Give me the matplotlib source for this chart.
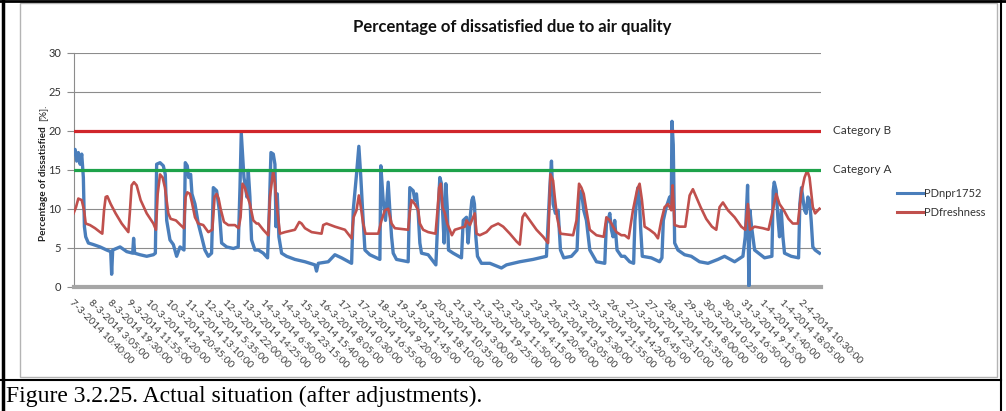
import matplotlib.pyplot as plt
from matplotlib.lines import Line2D
from matplotlib.transforms import blended_transform_factory

plt.rcParams['font.family'] = ['Lato', 'DejaVu Sans']

# hours since 7-3-2014 10:40 and percentage of dissatisfied
npr_hours = [0.0, 1.3, 2.7, 4.1, 5.6, 7.0, 8.4, 9.3, 10.4, 12.7, 17.0, 22.7, 28.4, 31.8, 32.6, 33.5,
             39.8, 45.5, 50.6, 51.4, 52.3, 56.9, 62.6, 68.3, 70.0, 71.1, 74.0, 76.8, 78.5, 79.7,
             82.5, 85.4, 88.2, 91.1, 94.5, 95.6, 97.3, 98.5, 100.2, 101.3, 103.9, 106.7, 109.6,
             112.4, 115.3, 118.1, 119.6, 122.4, 124.7, 126.7, 131.0, 136.7, 140.9, 142.4, 143.5,
             144.6, 145.8, 147.2, 148.3, 149.5, 150.9, 152.3, 155.2,
             158.1, 162.3, 166.0, 167.5, 168.9, 170.9, 172.3, 173.2, 174.3, 175.7, 178.0, 182.3,
             189.4, 198.0, 206.5, 207.9, 209.4, 217.9, 223.6, 229.3, 237.9, 239.3, 242.1, 244.1,
             245.8, 247.3, 249.3, 253.5, 262.1, 262.9, 264.9, 266.9, 269.2, 270.6, 272.1, 273.5,
             276.3, 286.3, 287.7, 290.6, 292.0, 293.4, 294.9, 296.3, 297.7, 303.4, 310.0, 312.0,
             313.4, 314.8,
             315.7, 317.1, 318.5, 319.7, 320.8, 324.8, 331.9, 333.4, 336.2, 337.6, 339.1, 340.8,
             341.9, 343.0, 344.2, 345.6, 349.0, 356.2, 366.1, 370.4, 381.8, 393.2, 404.6, 406.3,
             407.5, 408.9, 410.3, 412.3, 414.6, 416.6, 419.4, 426.0, 430.8, 432.5, 434.5, 436.5,
             438.8, 441.7, 447.4, 454.5, 455.9, 457.3, 458.8, 460.2, 461.6, 463.0, 465.0, 468.7,
             471.5, 475.8, 479.2, 480.3, 481.8, 482.9, 484.3, 485.2, 486.6, 494.3, 501.4, 503.4,
             504.6, 507.1, 510.0, 511.4, 512.0, 513.1, 514.3, 517.1, 522.8, 528.5, 535.6, 542.8,
             551.3, 557.0, 565.6, 572.7, 574.7, 576.7, 577.8, 578.7, 580.1, 582.7, 591.2, 597.5,
             598.6, 599.5, 601.2, 602.6, 604.0, 605.5, 606.9, 608.3, 614.0, 620.3, 621.4, 622.8,
             625.4, 626.8, 628.3, 629.7, 631.1, 632.5, 634.5, 638.2]
npr_values = [17.0, 17.6, 16.1, 17.2, 15.7, 17.0, 14.0, 7.7, 6.4, 5.6, 5.4, 5.1, 4.7, 4.5, 1.6, 4.7,
              5.1, 4.5, 4.3, 6.2, 4.3, 4.1, 3.9, 4.1, 4.3, 15.7, 15.9, 15.5, 14.4, 8.5,
              6.0, 5.4, 3.9, 5.1, 4.7, 15.9, 15.5, 14.0, 14.4, 11.9, 10.6, 8.1, 6.4,
              4.7, 3.9, 4.3, 12.7, 12.3, 9.8, 5.6, 5.1, 4.9, 5.1, 12.7, 19.7,
              17.0, 14.0, 12.7, 11.5, 14.9, 11.5, 6.0, 4.7,
              4.7, 4.3, 3.7, 9.8, 17.2, 17.0, 15.7, 7.7, 11.9, 6.4, 4.3, 3.9,
              3.5, 3.2, 2.8, 2.0, 3.0, 3.2, 4.1, 3.7, 3.0, 9.8, 14.4, 18.0,
              14.0, 9.8, 4.7, 4.1, 3.5, 15.5, 11.1, 8.5, 13.4, 9.8, 6.4, 4.3,
              3.5, 3.2, 12.7, 12.3, 11.1, 11.9, 9.4, 5.6, 4.3, 4.1, 2.8, 9.8,
              14.0, 13.2,
              9.8, 5.6, 13.2, 10.2, 4.7, 4.3, 3.7, 8.5, 8.9, 5.6, 8.5, 11.1,
              11.5, 10.6, 6.4, 3.9, 3.0, 3.0, 2.4, 2.8, 3.2, 3.5, 3.9, 8.9,
              12.7, 16.1, 10.6, 9.4, 9.8, 4.7, 3.7, 3.9, 4.7, 11.5, 12.3, 9.8,
              8.5, 4.7, 3.2, 3.0, 8.1, 8.5, 9.4, 7.3, 6.4, 8.5, 4.7, 3.9,
              3.9, 3.2, 3.0, 8.5, 11.3, 12.7, 10.6, 7.5, 3.9, 3.7, 3.2, 3.7,
              8.5, 10.2, 11.5, 10.6, 21.2, 18.2, 5.6, 4.7, 4.1, 3.9, 3.2, 3.0,
              3.5, 3.9, 3.2, 3.9, 6.4, 13.0, 0.1, 9.8, 7.7, 4.7, 3.7, 3.9,
              12.3, 13.4, 12.3, 8.9, 6.4, 9.8, 6.4, 4.3, 3.9, 3.7, 10.6, 12.7,
              9.8, 9.4, 11.5, 11.1, 8.5, 5.1, 4.7, 4.3]

fresh_hours = [0.0, 2.1, 4.1, 7.0, 9.0, 10.4, 14.1, 18.4, 22.7, 24.6, 26.1, 27.5, 28.9, 31.8, 36.0,
               41.2, 46.9, 48.3, 49.7, 51.7, 54.0, 57.4, 62.6, 68.3, 70.5, 72.0, 74.0, 76.2, 78.2,
               81.1, 83.1, 87.6, 91.6, 94.5, 95.9, 97.3, 99.6, 101.3, 103.9, 106.7, 111.0, 115.3,
               118.7, 120.7, 122.4, 124.1, 125.8, 128.7, 132.4, 138.1, 141.2, 142.9, 144.6, 146.6,
               148.1, 150.9, 153.8, 156.6,
               158.1, 162.3, 166.6, 168.0, 170.9, 172.3, 173.7, 176.6, 180.9, 189.4, 193.1, 195.1,
               198.0, 203.7, 212.2, 213.6, 216.5, 223.6, 232.2, 237.9, 239.6, 242.1, 244.1, 245.8,
               247.8, 249.8, 260.7, 263.5, 266.4, 269.2, 272.1, 274.9, 286.3, 287.7, 289.2, 292.0,
               294.9, 296.3, 299.1, 303.4, 309.7, 311.4, 312.8, 314.2,
               315.7, 317.7, 319.7, 321.9, 323.7, 326.2, 330.5, 334.8, 336.2, 339.1, 341.9, 343.3,
               344.8, 347.6, 353.3, 357.6, 363.3, 367.6, 373.3, 379.0, 381.8, 384.1, 386.1, 390.4,
               396.1, 401.8, 406.0, 408.0, 410.3, 411.7, 413.7, 416.6, 427.4, 430.3, 432.5, 434.5,
               436.5, 438.8, 441.7, 447.4, 453.6, 455.9, 458.8, 461.6, 464.5, 468.7,
               471.5, 474.9, 478.6, 482.3, 484.3, 486.3, 488.6, 492.9, 497.2, 500.0, 502.9, 505.7,
               508.6, 511.4, 512.5, 514.3, 518.5, 523.4, 527.1, 529.9, 532.8, 536.5, 541.3, 546.2,
               549.9, 552.7, 555.6, 559.9, 565.6, 571.3, 574.7, 577.0, 578.7, 582.7, 589.8, 594.6,
               598.3, 601.2, 604.0, 607.7, 611.7, 615.4, 619.7, 622.5, 625.4, 627.7, 629.7, 632.5,
               634.5, 638.2]
fresh_values = [9.4, 10.2, 11.3, 11.1, 9.8, 8.1, 7.9, 7.5, 7.0, 6.8, 9.8, 11.5, 11.6, 10.6, 9.4,
                8.1, 7.0, 9.8, 13.0, 13.4, 13.0, 11.1, 9.4, 8.1, 7.3, 11.9, 14.4, 14.0, 12.7,
                9.4, 8.7, 8.5, 7.9, 7.5, 11.5, 12.1, 11.9, 10.8, 8.9, 8.1, 7.9, 7.0,
                7.3, 11.5, 11.9, 11.3, 10.0, 8.3, 7.9, 7.9, 7.5, 8.9, 13.2, 12.7,
                11.9, 10.6, 8.5, 8.1,
                8.1, 7.3, 6.6, 11.5, 14.9, 13.2, 10.6, 6.8, 7.0, 7.3, 8.3, 8.1,
                7.5, 7.0, 6.8, 7.9, 8.1, 7.7, 7.3, 6.2, 8.9, 9.8, 11.7, 10.2,
                8.1, 6.8, 6.8, 8.5, 9.8, 10.0, 8.1, 7.5, 7.3, 9.6, 11.1, 10.6,
                9.8, 8.1, 7.3, 7.0, 6.8, 9.8, 12.7, 13.2,
                10.2, 9.4, 8.1, 7.3, 6.6, 7.3, 7.5, 7.7, 8.5, 7.9, 8.9, 9.4,
                6.8, 6.6, 7.0, 7.7, 8.1, 7.7, 6.8, 5.8, 5.4, 8.9, 9.4, 8.5,
                7.3, 6.4, 5.6, 14.4, 13.6, 11.5, 8.9, 6.8, 6.6, 8.5, 13.2, 12.7,
                11.9, 9.8, 7.3, 6.6, 6.4, 8.9, 8.5, 7.7, 7.0, 6.6,
                6.6, 6.2, 9.8, 12.5, 13.2, 11.1, 7.7, 7.3, 6.8, 6.2, 8.5, 10.2,
                10.6, 9.8, 13.0, 7.9, 7.7, 7.7, 11.7, 12.5, 11.5, 10.2, 8.7, 7.7,
                7.3, 10.2, 10.8, 9.8, 8.9, 7.7, 7.3, 10.6, 7.3, 7.7, 7.5, 7.3,
                9.8, 11.9, 10.6, 9.8, 8.7, 8.1, 8.1, 11.9, 14.0, 14.9, 14.0, 10.2,
                9.4, 10.0]

category_names = ['Category B', 'Category A']
category_limits = [20, 15]
category_colors = ['#d0262b', '#1ea24a']

series_names = ['PDnpr1752', 'PDfreshness']
series_colors = ['#4a7ebb', '#c0504d']

tick_step_hours = 985 / 60  # every 197th 5-minute sample
tick_labels = ['7-3-2014 10:40:00', '8-3-2014 3:05:00', '8-3-2014 19:30:00', '9-3-2014 11:55:00',
               '10-3-2014 4:20:00', '10-3-2014 20:45:00', '11-3-2014 13:10:00', '12-3-2014 5:35:00',
               '12-3-2014 22:00:00', '13-3-2014 14:25:00', '14-3-2014 6:50:00', '14-3-2014 23:15:00',
               '15-3-2014 15:40:00', '16-3-2014 8:05:00', '17-3-2014 0:30:00', '17-3-2014 16:55:00',
               '18-3-2014 9:20:00', '19-3-2014 1:45:00', '19-3-2014 18:10:00', '20-3-2014 10:35:00',
               '21-3-2014 3:00:00', '21-3-2014 19:25:00', '22-3-2014 11:50:00', '23-3-2014 4:15:00',
               '23-3-2014 20:40:00', '24-3-2014 13:05:00', '25-3-2014 5:30:00', '25-3-2014 21:55:00',
               '26-3-2014 14:20:00', '27-3-2014 6:45:00', '27-3-2014 23:10:00', '28-3-2014 15:35:00',
               '29-3-2014 8:00:00', '30-3-2014 0:25:00', '30-3-2014 16:50:00', '31-3-2014 9:15:00',
               '1-4-2014 1:40:00', '1-4-2014 18:05:00', '2-4-2014 10:30:00']

fig = plt.figure(figsize=(10.06, 4.11), dpi=100)
ax = fig.add_axes([0.0731, 0.3024, 0.7430, 0.5694])

ax.plot(npr_hours, npr_values, color=series_colors[0], lw=2.4, zorder=3)
ax.plot(fresh_hours, fresh_values, color=series_colors[1], lw=1.9, zorder=4)

trans = blended_transform_factory(fig.transFigure, ax.transData)
for name, lim, col in zip(category_names, category_limits, category_colors):
    ax.axhline(lim, color=col, lw=2.3, zorder=5)
    ax.text(833 / 1006, lim, name, transform=trans, va='center', ha='left',
            fontsize=8.5, color='#333333')

ax.set_xlim(0, 639.5)
ax.set_ylim(0, 30)
ax.set_yticks(range(0, 31, 5))
ax.set_xticks([i * tick_step_hours for i in range(len(tick_labels))])
ax.set_xticklabels(tick_labels, rotation=-45, ha='left', va='top',
                   rotation_mode='anchor', fontsize=7.4, color='#404040')
ax.tick_params(axis='x', length=0, pad=8)
ax.tick_params(axis='y', length=5, width=0.8, color='#8c8c8c', labelsize=8,
               labelcolor='#333333', pad=4)
ax.grid(axis='y', color='#8c8c8c', lw=0.8, zorder=1)
ax.set_axisbelow(True)
for side in ['top', 'right']:
    ax.spines[side].set_visible(False)
ax.spines['left'].set_color('#8c8c8c')
ax.spines['left'].set_linewidth(0.8)
ax.spines['bottom'].set_color('#a6a6a6')
ax.spines['bottom'].set_linewidth(3)

fig.text(43 / 1006, 1 - 184 / 411, 'Percentage of dissatisfied', rotation=90,
         ha='center', va='center', fontsize=7.2, fontweight='bold', color='#222222')
fig.text(43 / 1006, 1 - 113 / 411, '[%].', rotation=90,
         ha='center', va='center', fontsize=7.2, color='#222222')

fig.text(0.509, 1 - 27 / 411, 'Percentage of dissatisfied due to air quality',
         ha='center', va='center', fontsize=12, fontweight='bold', color='#111111')

handles = [Line2D([], [], color=c, lw=2.2) for c in series_colors]
fig.legend(handles, series_names, loc='upper left', bbox_to_anchor=(897 / 1006, 1 - 188 / 411),
           frameon=False, fontsize=8, handlelength=2.3, handletextpad=0.1,
           labelspacing=0.75, borderpad=0, borderaxespad=0, labelcolor='#333333')

# chart box and the surrounding figure table
fig.add_artist(plt.Rectangle((20 / 1006, 1 - 377 / 411), 977 / 1006, 373.5 / 411,
                             transform=fig.transFigure, fill=False, ec='#b4b4b4', lw=1))
fig.add_artist(Line2D([2.5 / 1006, 2.5 / 1006], [0, 1], transform=fig.transFigure,
                      color='black', lw=2.5))
fig.add_artist(Line2D([0, 1], [1 - 1 / 411, 1 - 1 / 411], transform=fig.transFigure,
                      color='black', lw=2))
fig.add_artist(Line2D([1001 / 1006, 1001 / 1006], [0, 1], transform=fig.transFigure,
                      color='black', lw=1.5))
fig.add_artist(Line2D([0, 1001 / 1006], [1 - 379.5 / 411, 1 - 379.5 / 411],
                      transform=fig.transFigure, color='black', lw=1.5))

fig.text(6 / 1006, 1 - 396 / 411, 'Figure 3.2.25. Actual situation (after adjustments).',
         ha='left', va='center', fontsize=17, family='Liberation Serif', color='black')

fig.savefig('out.png', dpi=100, facecolor='white')
